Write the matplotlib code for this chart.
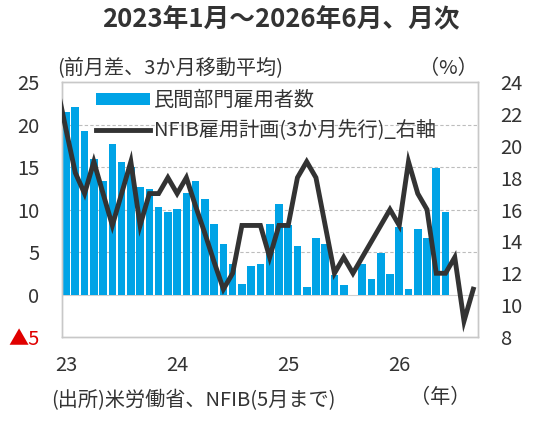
import numpy as np
import matplotlib.pyplot as plt
from matplotlib.patches import Patch
from matplotlib.lines import Line2D

plt.rcParams['font.family'] = ['Noto Sans CJK JP', 'DejaVu Sans']

# 民間部門雇用者数 (前月差、3か月移動平均), 2023/1 ~ 2026/6
payrolls = [21.5, 22.1, 19.2, 16.0, 13.4, 17.7, 15.6, 15.0, 12.6, 12.4,
            10.3, 9.7, 10.1, 11.9, 13.4, 11.2, 8.3, 6.0, 3.6, 1.2,
            3.4, 3.6, 8.3, 10.7, 8.2, 5.7, 0.85, 6.7, 6.0, 2.3,
            1.1, 0.0, 3.6, 1.8, 4.9, 2.4, 8.0, 0.6, 7.7, 6.6,
            14.9, 9.7]
# NFIB雇用計画 (3か月先行), 2022/12 ~ 2026/9, 右軸
nfib = [23.8, 21.0, 18.3, 17.0, 19.0, 17.0, 15.0, 17.0, 19.0, 15.0,
        17.0, 17.0, 18.0, 17.0, 18.0, 16.2, 14.5, 12.7, 11.0, 12.0,
        15.0, 15.0, 15.0, 13.0, 15.0, 15.0, 18.0, 19.0, 18.0, 15.0,
        12.0, 13.0, 12.0, 13.0, 14.0, 15.0, 16.0, 15.0, 19.0, 17.0,
        16.0, 12.0, 12.0, 13.0, 9.0, 11.0]
year_ticks = [0, 12, 24, 36]
year_labels = ['23', '24', '25', '26']
left_ticks = [-5, 0, 5, 10, 15, 20, 25]
left_labels = ['▲5', '0', '5', '10', '15', '20', '25']
right_ticks = [8, 10, 12, 14, 16, 18, 20, 22, 24]

blue = '#00a3e6'
dark = '#333333'
text_c = '#333333'
fs = 14.5

fig = plt.figure(figsize=(5.4, 4.21), dpi=100)
ax = fig.add_axes([0.1143, 0.1995, 0.7707, 0.6057])

xb = np.arange(len(payrolls))
ax.bar(xb, payrolls, width=0.83, color=blue, zorder=2)
ax.axhline(0, color='#d0d0d0', lw=0.8, zorder=1)
for v in [5, 10, 15, 20]:
    ax.axhline(v, color='#bdbdbd', lw=0.8, ls=(0, (3, 2)), zorder=1)

ax.set_xlim(-0.47, 44.5)
ax.set_ylim(-5, 25)
ax.set_yticks(left_ticks)
ax.set_yticklabels(left_labels)
ax.set_xticks(year_ticks)
ax.set_xticklabels(year_labels)
ax.tick_params(axis='both', length=0, labelsize=fs, colors=text_c)
ax.tick_params(axis='y', pad=16)
ax.tick_params(axis='x', pad=13)
ax.get_yticklabels()[0].set_color('#e00000')

ax2 = ax.twinx()
ax2.plot(np.arange(-1, len(nfib) - 1), nfib, color=dark, lw=3.5,
         solid_joinstyle='miter', zorder=3)
ax2.set_ylim(8, 24)
ax2.set_yticks(right_ticks)
ax2.tick_params(axis='y', length=0, labelsize=fs, colors=text_c, pad=16)

for a in (ax, ax2):
    for s in a.spines.values():
        s.set_color('#c8c8c8')
        s.set_linewidth(1.0)

handles = [Patch(facecolor=blue, edgecolor='none'),
           Line2D([], [], color=dark, lw=3.5)]
labels = ['民間部門雇用者数', 'NFIB雇用計画(3か月先行)_右軸']
ax2.legend(handles, labels, loc='upper left', bbox_to_anchor=(0.063, 1.0),
           frameon=False, fontsize=fs, handlelength=2.7, handleheight=0.5,
           handletextpad=0.2, labelspacing=0.45, borderaxespad=0,
           labelcolor=text_c)

fig.text(0.52, 0.952, '2023年1月～2026年6月、月次', ha='center', va='center',
         fontsize=18.5, fontweight='bold', color=text_c)
fig.text(0.105, 0.838, '(前月差、3か月移動平均)', ha='left', va='center',
         fontsize=fs, color=text_c)
fig.text(0.885, 0.838, '（%）', ha='right', va='center',
         fontsize=fs, color=text_c)
fig.text(0.094, 0.048, '(出所)米労働省、NFIB(5月まで)', ha='left', va='center',
         fontsize=fs, color=text_c)
fig.text(0.815, 0.057, '（年）', ha='center', va='center',
         fontsize=fs, color=text_c)

fig.savefig('out.png', dpi=100)
